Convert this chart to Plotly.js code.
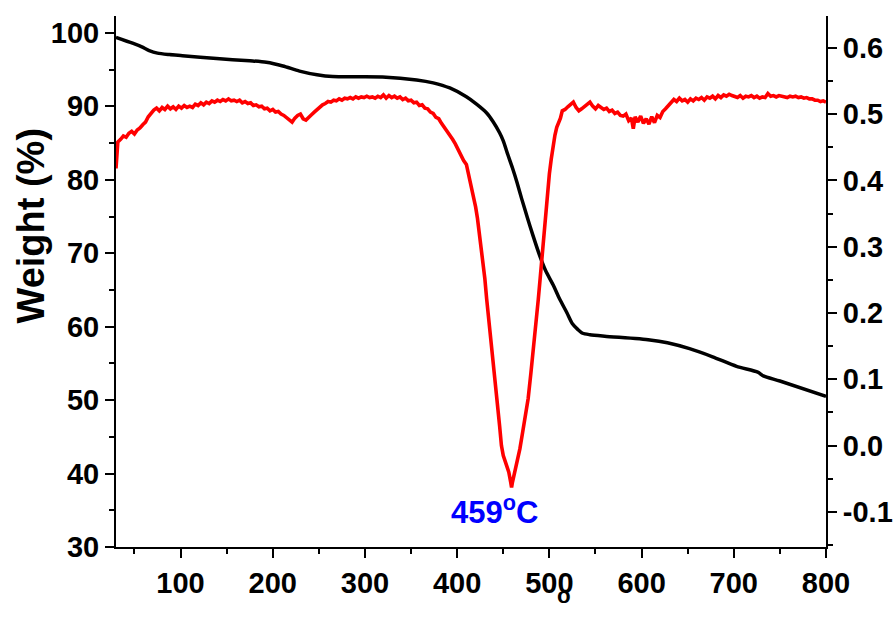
<!DOCTYPE html>
<html>
<head>
<meta charset="utf-8">
<script src="https://cdn.plot.ly/plotly-3.0.1.min.js"></script>
<style>html,body{margin:0;padding:0;background:#fff;}#chart{width:895px;height:624px;}</style>
</head>
<body>
<div id="chart"></div>
<script>
// TGA curve (weight %, left axis)
const tgaTemp = [30, 48, 58, 66, 75, 88, 102, 139, 175, 193, 211, 229, 248, 265, 319, 356, 374, 392, 410, 421, 432, 439, 446, 450, 455, 460, 465, 470, 476, 482, 490, 496, 504, 511, 519, 525, 531, 536, 544, 560, 609, 628, 652, 677, 703, 726, 732, 750, 800];
const tgaWeight = [99.4, 98.6, 98.1, 97.6, 97.25, 97.05, 96.9, 96.5, 96.2, 96.0, 95.5, 94.8, 94.3, 94.05, 94.0, 93.6, 93.2, 92.5, 91.3, 90.3, 89.1, 87.9, 86.4, 85.3, 83.4, 81.6, 79.6, 77.4, 74.9, 72.5, 69.5, 67.6, 65.7, 63.8, 61.9, 60.4, 59.6, 59.1, 58.9, 58.7, 58.2, 57.8, 57.0, 55.9, 54.6, 53.8, 53.3, 52.6, 50.5];

// DTG curve (right axis)
const dtgTemp = [30,31,32,35,38,41,44,47,50,53,56,59,62,65,68,71,74,77,80,83,86,89,92,95,98,101,104,107,110,113,116,119,122,125,128,131,134,137,140,143,146,149,152,155,158,161,164,167,170,173,176,179,182,185,188,191,194,197,200,203,206,209,212,215,218,221,224,227,230,233,236,239,242,245,248,251,254,257,260,263,266,269,272,275,278,281,284,287,290,293,296,299,302,305,308,311,314,317,320,323,326,329,332,335,338,341,344,347,350,353,356,359,362,365,368,371,374,377,380,383,386,389,392,395,398,401,404,407,410,412,414,416,418,420,422,424,426,428,430,432,434,437,440,443,446,448,450,452,454,456,458,459,460,462,464,466,468,471,474,477,480,482,484,486,488,490,492,494,496,498,500,502,504,506,508,510,512,514,517,520,523,526,529,532,535,538,541,544,547,550,553,556,559,562,565,568,571,574,577,580,583,586,589,591,593,596,599,602,605,608,611,614,617,620,623,626,629,632,635,638,641,644,647,650,653,656,659,662,665,668,671,674,677,680,683,686,689,692,695,698,701,704,707,710,713,716,719,722,725,728,731,734,737,740,743,746,749,752,755,758,761,764,767,770,773,776,779,782,785,788,791,794,797,800];
const dtgValue = [0.418,0.445,0.458,0.462,0.467,0.465,0.471,0.474,0.470,0.476,0.479,0.484,0.488,0.496,0.502,0.506,0.509,0.505,0.510,0.507,0.512,0.508,0.511,0.507,0.512,0.509,0.513,0.510,0.512,0.510,0.515,0.513,0.517,0.514,0.518,0.516,0.520,0.518,0.521,0.519,0.522,0.520,0.523,0.520,0.521,0.519,0.521,0.517,0.519,0.516,0.517,0.513,0.514,0.511,0.512,0.508,0.509,0.505,0.507,0.503,0.504,0.500,0.498,0.495,0.492,0.488,0.494,0.498,0.500,0.493,0.491,0.496,0.499,0.503,0.507,0.510,0.514,0.516,0.519,0.518,0.521,0.520,0.523,0.521,0.524,0.523,0.525,0.523,0.526,0.524,0.526,0.525,0.527,0.525,0.526,0.524,0.527,0.525,0.529,0.524,0.528,0.525,0.527,0.524,0.526,0.522,0.524,0.520,0.521,0.517,0.518,0.513,0.514,0.509,0.508,0.503,0.501,0.495,0.493,0.486,0.480,0.474,0.470,0.462,0.455,0.446,0.440,0.430,0.424,0.412,0.402,0.388,0.374,0.360,0.343,0.322,0.302,0.282,0.252,0.221,0.195,0.161,0.115,0.071,0.030,0.000,-0.015,-0.024,-0.032,-0.040,-0.055,-0.063,-0.055,-0.042,-0.035,-0.020,-0.005,0.020,0.045,0.071,0.110,0.135,0.161,0.190,0.221,0.252,0.285,0.318,0.350,0.380,0.410,0.432,0.455,0.468,0.480,0.486,0.494,0.505,0.507,0.511,0.515,0.518,0.510,0.505,0.508,0.511,0.515,0.518,0.512,0.508,0.513,0.510,0.507,0.509,0.504,0.506,0.501,0.503,0.498,0.497,0.500,0.490,0.494,0.478,0.496,0.488,0.497,0.486,0.493,0.485,0.496,0.487,0.498,0.495,0.504,0.508,0.513,0.518,0.522,0.519,0.524,0.520,0.522,0.518,0.523,0.520,0.524,0.522,0.525,0.521,0.526,0.524,0.527,0.523,0.528,0.525,0.529,0.527,0.530,0.528,0.527,0.525,0.528,0.524,0.527,0.526,0.528,0.525,0.527,0.524,0.526,0.525,0.531,0.527,0.528,0.526,0.528,0.527,0.527,0.525,0.527,0.526,0.527,0.525,0.526,0.524,0.525,0.523,0.523,0.521,0.521,0.519,0.520,0.518];

const xTicks = [100, 200, 300, 400, 500, 600, 700, 800];
const yLeftTicks = [30, 40, 50, 60, 70, 80, 90, 100];
const yRightTicks = [-0.1, 0.0, 0.1, 0.2, 0.3, 0.4, 0.5, 0.6];
const yRightLabels = ['-0.1', '0.0', '0.1', '0.2', '0.3', '0.4', '0.5', '0.6'];

const peakTemp = 459;
const peakLabel = '459<sup>o</sup>C';
const yTitle = 'Weight (%)';
const xTitle = 'Temperature (<sup><span style="baseline-shift:40px">o</span></sup>C)';

const FONT = 'Liberation Sans, Arial, sans-serif';
const tickFont = {family: FONT, size: 29, color: '#000', weight: 'bold'};

const traces = [
  {x: tgaTemp, y: tgaWeight, type: 'scatter', mode: 'lines', line: {color: '#000', width: 3.5, shape: 'spline', smoothing: 0.7}, yaxis: 'y', hoverinfo: 'skip'},
  {x: dtgTemp, y: dtgValue, type: 'scatter', mode: 'lines', line: {color: '#ff0000', width: 3.6}, yaxis: 'y2', hoverinfo: 'skip'}
];

const axCommon = {
  showgrid: false, zeroline: false, showline: true, linecolor: '#000', linewidth: 2,
  ticks: 'outside', ticklen: 9, tickwidth: 2, tickcolor: '#000', tickfont: tickFont
};

const layout = {
  width: 895, height: 624,
  margin: {l: 116, r: 69, t: 16, b: 77, pad: 0},
  paper_bgcolor: '#fff', plot_bgcolor: '#fff',
  showlegend: false,
  xaxis: Object.assign({}, axCommon, {
    range: [30, 800], tickmode: 'array', tickvals: xTicks, ticktext: xTicks.map(String),
    minor: {tickmode: 'linear', tick0: 50, dtick: 100, ticks: 'outside', ticklen: 5, tickwidth: 2, tickcolor: '#000'}
  }),
  yaxis: Object.assign({}, axCommon, {
    range: [30, 102.3], tickmode: 'array', tickvals: yLeftTicks, ticktext: yLeftTicks.map(String),
    minor: {tickmode: 'linear', tick0: 35, dtick: 10, ticks: 'outside', ticklen: 5, tickwidth: 2, tickcolor: '#000'}
  }),
  yaxis2: Object.assign({}, axCommon, {
    overlaying: 'y', side: 'right',
    range: [-0.153, 0.648], tickmode: 'array', tickvals: yRightTicks, ticktext: yRightLabels,
    minor: {tickmode: 'linear', tick0: -0.15, dtick: 0.1, ticks: 'outside', ticklen: 5, tickwidth: 2, tickcolor: '#000'}
  }),
  annotations: [
    {text: yTitle, xref: 'paper', yref: 'paper', x: -0.12, y: 0.605, textangle: -90, showarrow: false,
     xanchor: 'center', yanchor: 'middle', font: {family: FONT, size: 38, color: '#000', weight: 'bold'}},
    {text: peakLabel, xref: 'x', yref: 'y', x: 441, y: 35.0, showarrow: false, xanchor: 'center', yanchor: 'middle',
     font: {family: FONT, size: 31, color: '#0000ff', weight: 'bold'}},
    {text: xTitle, xref: 'paper', yref: 'paper', x: 0.5056, y: -0.0640, showarrow: false, xanchor: 'center', yanchor: 'top',
     font: {family: FONT, size: 32, color: '#000', weight: 'bold'}}
  ]
};

Plotly.newPlot('chart', traces, layout, {displayModeBar: false, staticPlot: true});
</script>
</body>
</html>
